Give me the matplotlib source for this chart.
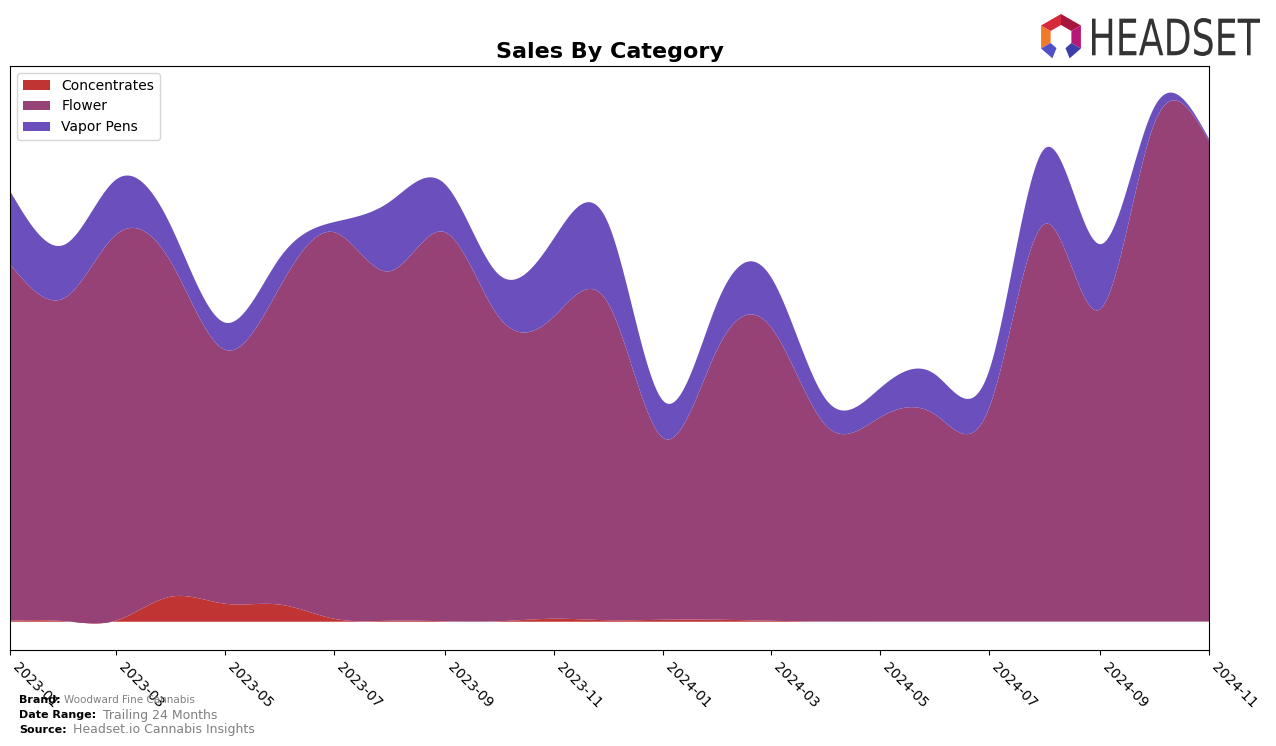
import numpy as np
import pandas as pd
import matplotlib
matplotlib.use("Agg")
import matplotlib.pyplot as plt
import matplotlib.dates as mdates
from matplotlib.patches import Polygon, PathPatch
from matplotlib.textpath import TextPath
from matplotlib.font_manager import FontProperties
from matplotlib.path import Path

# monthly sales (arbitrary units)
months = pd.date_range("2023-01-01", "2024-11-01", freq="MS")
concentrates = [1, 0.5, 1, 25, 18, 17, 3, 1, 0.5, 0.5, 3, 1.5,
                2, 2, 1, 0.3, 0.3, 0.3, 0.3, 0.3, 0.3, 0.3, 0.3]
flower = [355, 322.5, 384, 333, 253, 317, 385, 348, 387.5, 303.5, 301, 316.5,
          181, 272, 293, 195, 203, 206, 212, 395.7, 310.7, 493.7, 478.7]
vapor_pens = [73, 53, 55, 36, 27, 29, 10, 69, 48, 42, 78, 80,
              37, 47, 50, 26, 29, 40, 37, 75, 65, 17, 2]
categories = ["Concentrates", "Flower", "Vapor Pens"]
colors = ["#C03434", "#964277", "#6A4FBD"]


def spline(x, y, xs):
    # natural cubic spline
    x = np.asarray(x, float)
    y = np.asarray(y, float)
    n = len(x) - 1
    h = np.diff(x)
    A = np.zeros((n + 1, n + 1))
    b = np.zeros(n + 1)
    A[0, 0] = 1
    A[n, n] = 1
    for i in range(1, n):
        A[i, i - 1] = h[i - 1]
        A[i, i] = 2 * (h[i - 1] + h[i])
        A[i, i + 1] = h[i]
        b[i] = 6 * ((y[i + 1] - y[i]) / h[i] - (y[i] - y[i - 1]) / h[i - 1])
    M = np.linalg.solve(A, b)
    idx = np.clip(np.searchsorted(x, xs) - 1, 0, n - 1)
    x0, x1 = x[idx], x[idx + 1]
    hh = h[idx]
    return (M[idx] * (x1 - xs) ** 3 / (6 * hh) + M[idx + 1] * (xs - x0) ** 3 / (6 * hh)
            + (y[idx] / hh - M[idx] * hh / 6) * (x1 - xs)
            + (y[idx + 1] / hh - M[idx + 1] * hh / 6) * (xs - x0))


xn = mdates.date2num(months)
xs = np.linspace(xn[0], xn[-1], 600)
smooth = [spline(xn, s, xs) for s in (concentrates, flower, vapor_pens)]

fig = plt.figure(figsize=(12.76, 7.46), dpi=100)
ax = fig.add_axes([10 / 1276, 96 / 746, 1199 / 1276, 584 / 746])
ax.stackplot(xs, *smooth, colors=colors, labels=categories)
ax.set_xlim(xn[0], xn[-1])
ax.set_yticks([])
ax.xaxis.set_major_locator(mdates.MonthLocator(bymonth=[1, 3, 5, 7, 9, 11]))
ax.xaxis.set_major_formatter(mdates.DateFormatter("%Y-%m"))
plt.setp(ax.get_xticklabels(), rotation=-45, ha="left", fontsize=10)
ax.set_title("Sales By Category", fontsize=16, fontweight="bold")
ax.legend(loc="upper left", fontsize=10)

# footer
fig.text(19 / 1276, 1 - 700 / 746, "Brand:", fontsize=8, fontweight="bold", va="center")
fig.text(64 / 1276, 1 - 700 / 746, "Woodward Fine Cannabis", fontsize=7.5, color="gray", va="center")
fig.text(19 / 1276, 1 - 715 / 746, "Date Range:", fontsize=8, fontweight="bold", va="center")
fig.text(103 / 1276, 1 - 715 / 746, "Trailing 24 Months", fontsize=9, color="gray", va="center")
fig.text(19 / 1276, 1 - 730 / 746, "Source:", fontsize=8, fontweight="bold", va="center")
fig.text(73 / 1276, 1 - 730 / 746, "Headset.io Cannabis Insights", fontsize=9, color="gray", va="center")

# logo, drawn in pixel coordinates
lax = fig.add_axes([1030 / 1276, 1 - 66 / 746, 240 / 1276, 60 / 746])
lax.set_xlim(1030, 1270)
lax.set_ylim(746 - 66, 746 - 6)
lax.axis("off")
cx, cy = 1061, 746 - 37
ro, ri = 23, 12
segs = [(-120, -60, "#F07A2A"), (-60, 0, "#D42A3C"), (0, 60, "#A8163E"),
        (60, 120, "#B8177A"), (120, 158, "#3E3EA8"), (-158, -120, "#5050C8")]
for a0, a1, col in segs:
    t0, t1 = np.radians(a0), np.radians(a1)
    pts = [(cx + ro * np.sin(t0), cy + ro * np.cos(t0)),
           (cx + ro * np.sin(t1), cy + ro * np.cos(t1)),
           (cx + ri * np.sin(t1), cy + ri * np.cos(t1)),
           (cx + ri * np.sin(t0), cy + ri * np.cos(t0))]
    lax.add_patch(Polygon(pts, closed=True, color=col, lw=0))
tp = TextPath((0, 0), "HEADSET", size=1, prop=FontProperties(family="DejaVu Sans"))
ext = tp.get_extents()
sx = 168 / ext.width
sy = 38 / ext.height
verts = tp.vertices.copy()
verts[:, 0] = (verts[:, 0] - ext.x0) * sx + 1092
verts[:, 1] = (verts[:, 1] - ext.y0) * sy + (746 - 56)
lax.add_patch(PathPatch(Path(verts, tp.codes), color="#333333", lw=0))

fig.savefig("out.png", dpi=100)
